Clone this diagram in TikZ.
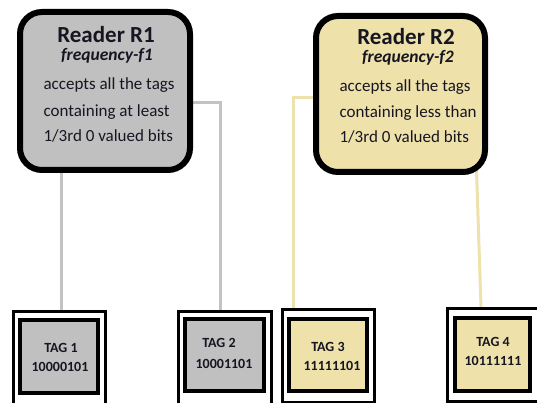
\documentclass[tikz,border=0pt]{standalone}
\usepackage{fontspec}
\setmainfont{Carlito}
\usetikzlibrary{backgrounds}
\definecolor{readergray}{RGB}{192,192,192}
\definecolor{readerbeige}{RGB}{238,225,170}
\definecolor{linkgray}{RGB}{195,195,195}
\definecolor{linkbeige}{RGB}{238,226,172}
\definecolor{ink}{RGB}{22,22,34}
\begin{document}
\begin{tikzpicture}[x=1pt,y=-1pt,
  reader/.style={draw=black, line width=6pt, rounded corners=22pt, inner sep=0pt},
  tagouter/.style={draw=black, line width=3pt, fill=white, inner sep=0pt},
  taginner/.style={draw=black, line width=4.5pt, inner sep=0pt},
  title/.style={anchor=base, text=ink, font=\bfseries\fontsize{23}{26}\selectfont},
  freq/.style={anchor=base, text=ink, font=\bfseries\itshape\fontsize{17.5}{20}\selectfont},
  body/.style={anchor=base west, text=ink, font=\fontsize{17}{20}\selectfont},
  tagtext/.style={anchor=center, text=ink, font=\bfseries\fontsize{14}{16}\selectfont},
  linkg/.style={draw=linkgray, line width=3pt},
  linkb/.style={draw=linkbeige, line width=3pt}]
\useasboundingbox (0,0) rectangle (537,403);
\clip (0,0) rectangle (537,403);

% readers
\node[reader, fill=readergray, minimum width=170pt, minimum height=158pt] (r1) at (105,91) {};
\node[reader, fill=readerbeige, minimum width=169pt, minimum height=156pt] (r2) at (400.5,94) {};

% tags: double frame, outer frame runs past the lower edge
\node[tagouter, minimum width=92pt, minimum height=96pt] (t1o) at (59.5,359.5) {};
\node[taginner, fill=readergray, minimum width=78pt, minimum height=73pt] (t1) at (59,356.5) {};
\node[tagouter, minimum width=93pt, minimum height=96pt] (t2o) at (225,359.5) {};
\node[taginner, fill=readergray, minimum width=79pt, minimum height=72pt] (t2) at (224.5,355) {};
\node[tagouter, minimum width=92pt, minimum height=93pt] (t3o) at (328.5,356) {};
\node[taginner, fill=readerbeige, minimum width=78pt, minimum height=72pt] (t3) at (328,355) {};
\node[tagouter, minimum width=91pt, minimum height=93pt] (t4o) at (493,355) {};
\node[taginner, fill=readerbeige, minimum width=75pt, minimum height=73pt] (t4) at (492.5,354.5) {};

% connectors
\begin{scope}[on background layer]
  \path (t1o.north) ++(1.5,0) coordinate (c1);
  \draw[linkg] (r1.south -| c1) -- (c1);
  \draw[linkg] ([yshift=-12pt]r1.east) -| ([xshift=-5pt]t2o.north);
  \draw[linkb] ([yshift=-4pt]r2.west) -| ([xshift=-35.5pt]t3o.north);
  \draw[linkb] ([xshift=-12pt,yshift=20pt]r2.south east) -- ([xshift=-12pt]t4o.north);
\end{scope}

% reader texts
\node[title] (r1title) at (106,43) {Reader R1};
\node[freq] (r1freq) at (107,61) {frequency-f1};
\node[body] (r1a) at (40,90) {accepts all the tags};
\node[body] (r1b) at (40,117) {containing at least};
\node[body] (r1c) at (40,142) {1/3rd 0 valued bits};

\node[title] (r2title) at (406,45) {Reader R2};
\node[freq] (r2freq) at (408,63) {frequency-f2};
\node[body] (r2a) at (336,92) {accepts all the tags};
\node[body] (r2b) at (336,118) {containing less than};
\node[body] (r2c) at (336,143) {1/3rd 0 valued bits};

% tag texts
\node[tagtext] (l1a) at (61,348) {TAG 1};
\node[tagtext] (l1b) at (60,367) {10000101};
\node[tagtext] (l2a) at (219,343) {TAG 2};
\node[tagtext] (l2b) at (224,364) {10001101};
\node[tagtext] (l3a) at (328,347) {TAG 3};
\node[tagtext] (l3b) at (332,366) {11111101};
\node[tagtext] (l4a) at (493,342) {TAG 4};
\node[tagtext] (l4b) at (493,361) {10111111};
\end{tikzpicture}
\end{document}
